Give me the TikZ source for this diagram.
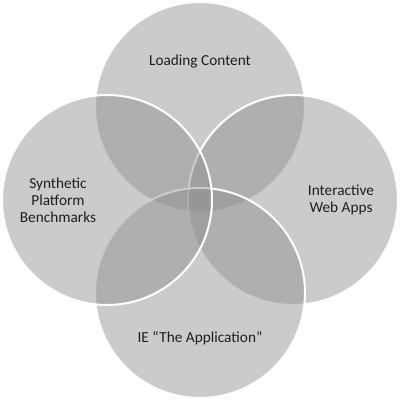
\documentclass[tikz,border=0pt]{standalone}
\usepackage{fontspec}
\setmainfont{Carlito}
\begin{document}
\begin{tikzpicture}[x=1pt,y=-1pt,
  venn/.style={circle,minimum size=210pt,inner sep=0pt,fill={rgb,255:red,140;green,140;blue,140},fill opacity=0.45,draw=white,draw opacity=1,line width=2pt},
  lbl/.style={font=\fontsize{15.3}{17.2}\selectfont,text={rgb,255:red,30;green,30;blue,30},align=center,inner sep=0pt}]
\useasboundingbox (0,0) rectangle (400,401);
\node[venn] (top) at (200,107) {};
\node[venn] (right) at (293,200) {};
\node[venn] (bottom) at (200,293) {};
\node[venn] (left) at (107,200) {};
\node[lbl] (ttop) at (200,62) {Loading Content};
\node[lbl] (tright) at (341,200) {Interactive\\Web Apps};
\node[lbl] (tbottom) at (200,338) {IE “The Application”};
\node[lbl] (tleft) at (58,200) {Synthetic\\Platform\\Benchmarks};
\end{tikzpicture}
\end{document}
